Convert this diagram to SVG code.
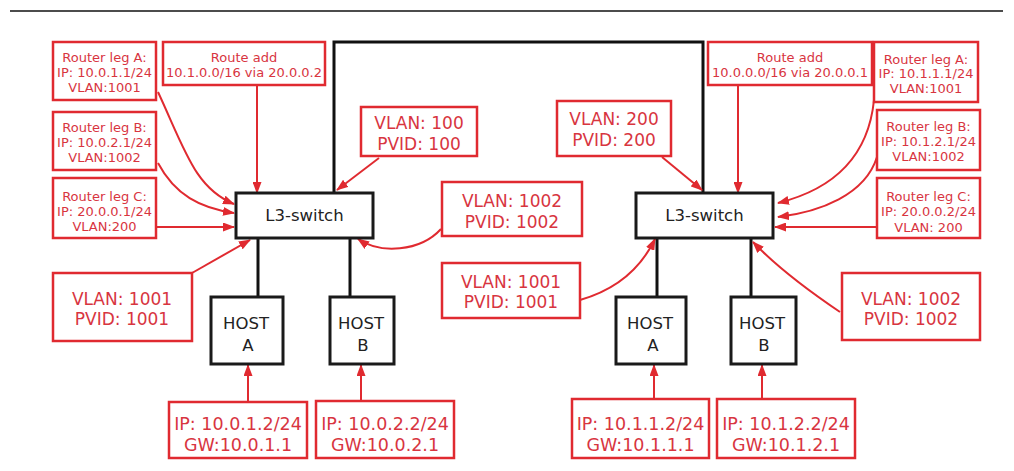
<svg xmlns="http://www.w3.org/2000/svg" width="1014" height="471" viewBox="0 0 1014 471">
<defs>
<marker id="ah" viewBox="0 0 12 9" refX="11" refY="4.5" markerWidth="12" markerHeight="9" markerUnits="userSpaceOnUse" orient="auto">
<path d="M0,0 L12,4.5 L0,9 z" fill="#e02a30"/>
</marker>
<style>
.rb{fill:#fff;stroke:#e02a30;stroke-width:2.5}
.bb{fill:#fff;stroke:#1a1a1a;stroke-width:3}
.rt{fill:#d8353f;font-family:"DejaVu Sans",Verdana,sans-serif;text-anchor:middle}
.s{font-size:13px}
.l{font-size:17px}
.ip{font-size:17.5px}
.bt{fill:#222;font-family:"DejaVu Sans",Verdana,sans-serif;font-size:16.5px;text-anchor:middle}
.rc{fill:none;stroke:#e02a30;stroke-width:2;marker-end:url(#ah)}
.bc{fill:none;stroke:#111;stroke-width:3}
</style>
</defs>
<rect width="1014" height="471" fill="#fff"/>
<line x1="10" y1="11" x2="1003" y2="11" stroke="#111" stroke-width="1.5"/>

<g id="connectors">
<path class="bc" d="M334,193 V42 H703 V193"/>
<path class="bc" d="M258,238 V297"/>
<path class="bc" d="M350,238 V297"/>
<path class="bc" d="M657,238 V297"/>
<path class="bc" d="M751,238 V297"/>
<path class="rc" d="M158,92 C185,150 195,188 234,204"/>
<path class="rc" d="M158,163 C175,195 200,208 234,213"/>
<path class="rc" d="M157,227 L234,227"/>
<path class="rc" d="M257,86 L257,193"/>
<path class="rc" d="M379,158 L337,190"/>
<path class="rc" d="M441,229 C420,252 380,254 358,239"/>
<path class="rc" d="M192,273 L250,240"/>
<path class="rc" d="M248,401 L248,365"/>
<path class="rc" d="M361,400 L361,365"/>
<path class="rc" d="M662,157 L702,190"/>
<path class="rc" d="M738,86 V193"/>
<path class="rc" d="M874,100 C868,160 830,190 778,203"/>
<path class="rc" d="M877,157 C865,195 820,212 778,217"/>
<path class="rc" d="M877,227 H775"/>
<path class="rc" d="M580,300 C615,290 640,270 655,239"/>
<path class="rc" d="M840,312 C800,285 775,265 753,242"/>
<path class="rc" d="M654,398 V365"/>
<path class="rc" d="M762,398 V365"/>
</g>

<g id="sw-left"><rect class="bb" x="236" y="193" width="137" height="45"/><text class="bt" x="304.5" y="221">L3-switch</text></g>
<g id="sw-right"><rect class="bb" x="636" y="193" width="137" height="45"/><text class="bt" x="704.5" y="221">L3-switch</text></g>

<g id="hostA-left"><rect class="bb" x="211" y="297" width="72" height="67"/><text class="bt" x="246" y="329">HOST</text><text class="bt" x="248" y="351">A</text></g>
<g id="hostB-left"><rect class="bb" x="330" y="297" width="64" height="67"/><text class="bt" x="361" y="329">HOST</text><text class="bt" x="363" y="351">B</text></g>
<g id="hostA-right"><rect class="bb" x="616" y="297" width="70" height="67"/><text class="bt" x="650" y="329">HOST</text><text class="bt" x="653" y="351">A</text></g>
<g id="hostB-right"><rect class="bb" x="731" y="297" width="65" height="67"/><text class="bt" x="762" y="329">HOST</text><text class="bt" x="764" y="351">B</text></g>

<g id="legA-left"><rect class="rb" x="53" y="42" width="103" height="58"/><text class="rt s" x="104.5" y="62">Router leg A:</text><text class="rt s" x="104.5" y="77">IP: 10.0.1.1/24</text><text class="rt s" x="104.5" y="92">VLAN:1001</text></g>
<g id="route-left"><rect class="rb" x="163" y="42" width="162" height="43"/><text class="rt s" x="244" y="62">Route add</text><text class="rt s" x="244" y="77">10.1.0.0/16 via 20.0.0.2</text></g>
<g id="legB-left"><rect class="rb" x="53" y="112" width="103" height="58"/><text class="rt s" x="104.5" y="132">Router leg B:</text><text class="rt s" x="104.5" y="147">IP: 10.0.2.1/24</text><text class="rt s" x="104.5" y="162">VLAN:1002</text></g>
<g id="legC-left"><rect class="rb" x="53" y="178" width="103" height="60"/><text class="rt s" x="104.5" y="201">Router leg C:</text><text class="rt s" x="104.5" y="216">IP: 20.0.0.1/24</text><text class="rt s" x="104.5" y="231">VLAN:200</text></g>

<g id="route-right"><rect class="rb" x="708" y="42" width="164" height="43"/><text class="rt s" x="790" y="62">Route add</text><text class="rt s" x="790" y="77">10.0.0.0/16 via 20.0.0.1</text></g>
<g id="legA-right"><rect class="rb" x="874" y="42" width="104" height="60"/><text class="rt s" x="926" y="64">Router leg A:</text><text class="rt s" x="926" y="78">IP: 10.1.1.1/24</text><text class="rt s" x="926" y="93">VLAN:1001</text></g>
<g id="legB-right"><rect class="rb" x="877" y="110" width="103" height="60"/><text class="rt s" x="928.5" y="131">Router leg B:</text><text class="rt s" x="928.5" y="146">IP: 10.1.2.1/24</text><text class="rt s" x="928.5" y="161">VLAN:1002</text></g>
<g id="legC-right"><rect class="rb" x="877" y="178" width="103" height="60"/><text class="rt s" x="928.5" y="201">Router leg C:</text><text class="rt s" x="928.5" y="216">IP: 20.0.0.2/24</text><text class="rt s" x="928.5" y="232">VLAN: 200</text></g>

<g id="vlan100"><rect class="rb" x="361" y="107" width="116" height="49"/><text class="rt l" x="419" y="129">VLAN: 100</text><text class="rt l" x="419" y="150">PVID: 100</text></g>
<g id="vlan200"><rect class="rb" x="557" y="101" width="114" height="55"/><text class="rt l" x="614" y="125">VLAN: 200</text><text class="rt l" x="614" y="146">PVID: 200</text></g>
<g id="vlan1002-left"><rect class="rb" x="442" y="182" width="140" height="54"/><text class="rt l" x="512" y="207">VLAN: 1002</text><text class="rt l" x="512" y="228">PVID: 1002</text></g>
<g id="vlan1001-left"><rect class="rb" x="53" y="273" width="139" height="68"/><text class="rt l" x="122" y="305">VLAN: 1001</text><text class="rt l" x="122" y="325">PVID: 1001</text></g>
<g id="vlan1001-right"><rect class="rb" x="442" y="263" width="138" height="55"/><text class="rt l" x="511" y="288">VLAN: 1001</text><text class="rt l" x="511" y="308">PVID: 1001</text></g>
<g id="vlan1002-right"><rect class="rb" x="842" y="273" width="138" height="67"/><text class="rt l" x="911" y="305">VLAN: 1002</text><text class="rt l" x="911" y="325">PVID: 1002</text></g>

<g id="ipA-left"><rect class="rb" x="169" y="402" width="138" height="56"/><text class="rt ip" x="238" y="430">IP: 10.0.1.2/24</text><text class="rt ip" x="238" y="451">GW:10.0.1.1</text></g>
<g id="ipB-left"><rect class="rb" x="316" y="401" width="138" height="57"/><text class="rt ip" x="385" y="430">IP: 10.0.2.2/24</text><text class="rt ip" x="385" y="451">GW:10.0.2.1</text></g>
<g id="ipA-right"><rect class="rb" x="572" y="399" width="137" height="59"/><text class="rt ip" x="640.5" y="430">IP: 10.1.1.2/24</text><text class="rt ip" x="640.5" y="451">GW:10.1.1.1</text></g>
<g id="ipB-right"><rect class="rb" x="717" y="399" width="138" height="59"/><text class="rt ip" x="786" y="430">IP: 10.1.2.2/24</text><text class="rt ip" x="786" y="451">GW:10.1.2.1</text></g>
</svg>
